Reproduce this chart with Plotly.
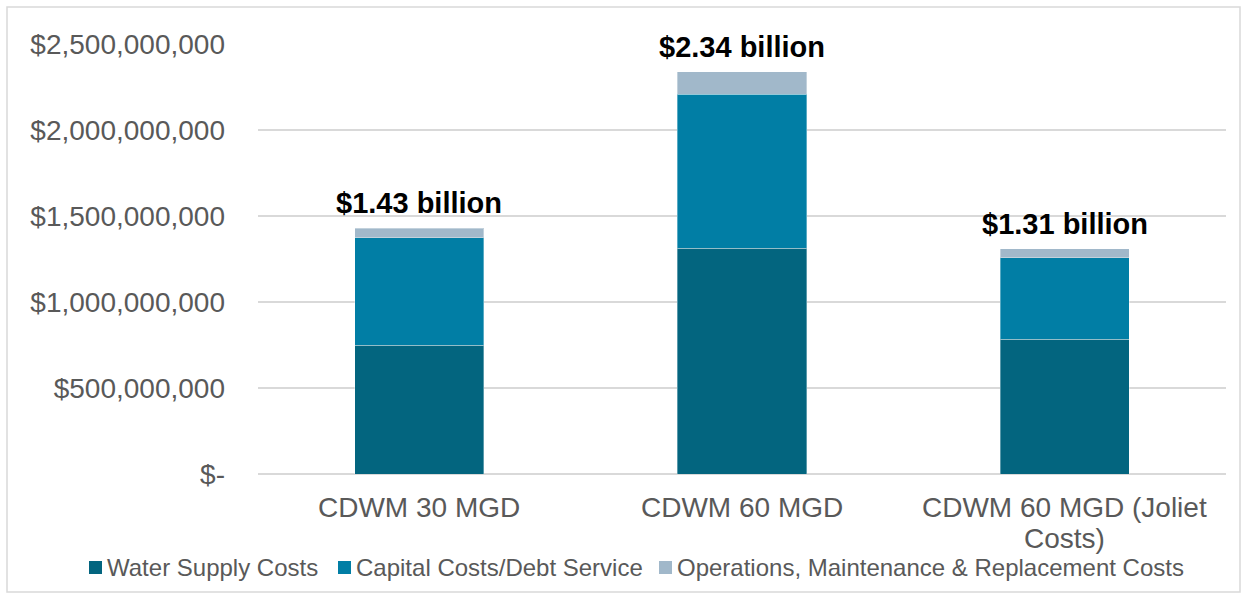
import plotly.graph_objects as go

categories = ["CDWM 30 MGD", "CDWM 60 MGD", "CDWM 60 MGD (Joliet Costs)"]
x_tick_labels = ["CDWM 30 MGD", "CDWM 60 MGD", "CDWM 60 MGD (Joliet<br>Costs)"]
water_supply = [750_000_000, 1_312_000_000, 783_000_000]
capital_debt = [624_000_000, 895_000_000, 475_000_000]
om_replacement = [56_000_000, 133_000_000, 52_000_000]
total_labels = ["$1.43 billion", "$2.34 billion", "$1.31 billion"]
y_tick_vals = [0, 500_000_000, 1_000_000_000, 1_500_000_000, 2_000_000_000, 2_500_000_000]
y_tick_text = ["$-", "$500,000,000", "$1,000,000,000", "$1,500,000,000",
               "$2,000,000,000", "$2,500,000,000"]
series_names = ["Water Supply Costs", "Capital Costs/Debt Service",
                "Operations, Maintenance & Replacement Costs"]
series_colors = ["#03657f", "#017ea5", "#a1b8ca"]
series_values = [water_supply, capital_debt, om_replacement]

FONT = "Liberation Sans, Arial, sans-serif"
GREY = "#595959"
W, H = 1245, 599
L, R, T, B = 258, 19, 44, 125

fig = go.Figure()
for name, vals, col in zip(series_names, series_values, series_colors):
    fig.add_trace(go.Bar(
        x=categories, y=vals, name=name,
        marker=dict(color=col, line=dict(color="rgba(255,255,255,0.35)", width=1)),
        width=0.4, showlegend=False,
    ))

totals = [a + b + c for a, b, c in zip(water_supply, capital_debt, om_replacement)]
for cat, tot, lab in zip(categories, totals, total_labels):
    fig.add_annotation(x=cat, y=tot, text=f"<b>{lab}</b>", showarrow=False,
                       yanchor="bottom", yshift=7,
                       font=dict(family=FONT, size=29, color="#000000"))

# category labels (tight line spacing like the original)
for cat, lab in zip(categories, x_tick_labels):
    for i, line in enumerate(lab.split("<br>")):
        fig.add_annotation(x=cat, xref="x", yref="paper", y=0, yanchor="middle",
                           yshift=-(33 + 31 * i), showarrow=False, text=line,
                           font=dict(family=FONT, size=28, color=GREY))

pw = W - L - R
ph = H - T - B
def px_x(p):
    return (p - L) / pw
def px_y(p):
    return (H - B - p) / ph

# chart frame
fig.add_shape(type="rect", xref="paper", yref="paper",
              x0=px_x(7), x1=px_x(1240), y0=px_y(592), y1=px_y(7),
              line=dict(color="#d9d9d9", width=1.5), layer="below")

# legend (manual, to reproduce the compact single row)
legend_x = [89, 338, 659]
legend_cy = 567.5
sw = 13
for xs, name, col in zip(legend_x, series_names, series_colors):
    fig.add_shape(type="rect", xref="paper", yref="paper",
                  x0=px_x(xs), x1=px_x(xs + sw),
                  y0=px_y(legend_cy + sw / 2), y1=px_y(legend_cy - sw / 2),
                  fillcolor=col, line=dict(width=0))
    fig.add_annotation(xref="paper", yref="paper", x=px_x(xs + sw + 3), y=px_y(legend_cy),
                       xanchor="left", yanchor="middle", showarrow=False, text=name,
                       font=dict(family=FONT, size=24, color=GREY))

fig.update_layout(
    width=W, height=H,
    margin=dict(l=L, r=R, t=T, b=B, autoexpand=False),
    barmode="stack",
    plot_bgcolor="white", paper_bgcolor="white",
    font=dict(family=FONT, color=GREY),
    showlegend=False,
    xaxis=dict(showgrid=False, showline=False, ticks="", showticklabels=False),
    yaxis=dict(range=[0, 2_500_000_000], tickvals=y_tick_vals, ticktext=y_tick_text,
               showgrid=True, gridcolor="#d9d9d9", gridwidth=1.5,
               zeroline=True, zerolinecolor="#d9d9d9", zerolinewidth=1.5,
               showline=False, ticks="",
               tickfont=dict(family=FONT, size=28, color=GREY),
               ticklabelstandoff=32),
)

fig.write_html("out.html", config={"displayModeBar": False},
               post_script="document.body.style.margin='0';document.body.style.overflow='hidden';")
